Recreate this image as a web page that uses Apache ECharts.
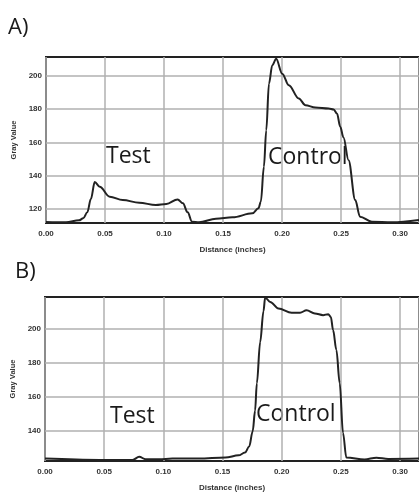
<!DOCTYPE html>
<html>
<head>
<meta charset="utf-8">
<script src="https://cdn.jsdelivr.net/npm/echarts@6/dist/echarts.min.js"></script>
<style>
html,body{margin:0;padding:0;background:#fff;}
#chart{width:419px;height:493px;}
</style>
</head>
<body>
<div id="chart"></div>
<script>
// Panel A profile
const distA = [0, 0.017, 0.028, 0.0315, 0.035, 0.038, 0.0413, 0.0455, 0.054, 0.065, 0.079, 0.093, 0.102, 0.1115, 0.116, 0.120, 0.1237, 0.1296, 0.144, 0.158, 0.1748, 0.18, 0.182, 0.1846, 0.1866, 0.1889, 0.1917, 0.195, 0.2001, 0.2057, 0.2142, 0.2198, 0.2282, 0.2395, 0.2437, 0.2465, 0.2493, 0.252, 0.2563, 0.262, 0.266, 0.276, 0.293, 0.316];
const grayA = [112.2, 112, 113.2, 114.4, 118, 126, 136.2, 133.4, 127.4, 125.4, 123.8, 122.4, 123, 125.8, 123.4, 118, 112.4, 112, 114.2, 115, 117.4, 120.5, 124.4, 145.4, 167.4, 195.4, 206.4, 210.4, 201.4, 194.4, 186.4, 182.4, 181, 180.4, 179.8, 177.4, 169.4, 163, 149.4, 125.4, 115.4, 112.4, 112, 113.4];
// Panel B profile
const distB = [0, 0.046, 0.074, 0.0796, 0.085, 0.0964, 0.1076, 0.13, 0.1524, 0.1636, 0.169, 0.1725, 0.1755, 0.1775, 0.179, 0.1818, 0.1846, 0.186, 0.1903, 0.1972, 0.2084, 0.2155, 0.221, 0.228, 0.235, 0.2393, 0.2415, 0.2434, 0.2462, 0.249, 0.2518, 0.2546, 0.27, 0.28, 0.29, 0.316];
const grayB = [124, 123.2, 123.2, 125.1, 123.6, 123.6, 124, 124, 124.6, 125.9, 127.5, 131, 140, 152, 168, 192, 210, 218, 215.4, 211.6, 209.1, 209.1, 210.6, 208.7, 207.7, 208.3, 206.7, 199, 187.4, 168, 139, 124.6, 123.5, 124.5, 123.8, 124];
// Axis ticks
const xTicks = [0, 0.05, 0.10, 0.15, 0.20, 0.25, 0.30];
const yTicksA = [120, 140, 160, 180, 200];
const yTicksB = [140, 160, 180, 200];

const pair = (xs, ys) => xs.map((x, i) => [x, ys[i]]);
const lblStyle = {fontFamily: 'Liberation Sans', fontSize: 8, fontWeight: 'bold', color: '#333'};
const gridLine = {show: true, lineStyle: {color: '#b0b0b0', width: 1.5}};

function xAxis(gi) {
  return {
    type: 'value', gridIndex: gi, min: 0, max: 0.316, interval: 0.05,
    name: 'Distance (inches)', nameLocation: 'middle', nameGap: 23,
    nameTextStyle: {fontFamily: 'Liberation Sans', fontSize: 8, fontWeight: 'bold', color: '#333'},
    axisLine: {show: false}, axisTick: {show: false},
    axisLabel: Object.assign({margin: 7, showMaxLabel: false, formatter: v => v.toFixed(2)}, lblStyle),
    splitLine: gridLine
  };
}
function yAxis(gi, mn, mx, ticks) {
  return {
    type: 'value', gridIndex: gi, min: mn, max: mx,
    name: 'Gray Value', nameLocation: 'middle', nameGap: 26,
    nameTextStyle: {fontFamily: 'Liberation Sans', fontSize: 7.5, fontWeight: 'bold', color: '#333'},
    axisLine: {show: false},
    axisTick: {show: false, customValues: ticks},
    axisLabel: Object.assign({margin: 4, customValues: ticks}, lblStyle),
    splitLine: gridLine
  };
}

const chart = echarts.init(document.getElementById('chart'), null, {renderer: 'canvas'});
const textFont = '23px "Open Sans"';
chart.setOption({
  animation: false,
  backgroundColor: '#fff',
  grid: [
    {left: 46, top: 57, width: 375, height: 166, show: true, borderColor: '#222', borderWidth: 2, backgroundColor: 'transparent'},
    {left: 45, top: 297, width: 376, height: 165, show: true, borderColor: '#222', borderWidth: 2, backgroundColor: 'transparent'}
  ],
  xAxis: [xAxis(0), xAxis(1)],
  yAxis: [yAxis(0, 111.6, 211.4, yTicksA), yAxis(1, 122.6, 218.3, yTicksB)],
  series: [
    {type: 'line', xAxisIndex: 0, yAxisIndex: 0, data: pair(distA, grayA), showSymbol: false, smooth: 0.35, smoothMonotone: 'x', lineStyle: {color: '#222', width: 2}, clip: true},
    {type: 'line', xAxisIndex: 1, yAxisIndex: 1, data: pair(distB, grayB), showSymbol: false, smooth: 0.35, smoothMonotone: 'x', lineStyle: {color: '#222', width: 2}, clip: true}
  ],
  graphic: [
    {type: 'text', left: 8, top: 17, style: {text: 'A)', font: '22px "Open Sans"', fill: '#1a1a1a'}},
    {type: 'text', left: 15, top: 261, style: {text: 'B)', font: '22px "Open Sans"', fill: '#1a1a1a'}},
    {type: 'text', left: 106, top: 145, style: {text: 'Test', font: textFont, fill: '#1a1a1a'}},
    {type: 'text', left: 268, top: 146, style: {text: 'Control', font: textFont, fill: '#1a1a1a'}},
    {type: 'text', left: 110, top: 405, style: {text: 'Test', font: textFont, fill: '#1a1a1a'}},
    {type: 'text', left: 256, top: 403, style: {text: 'Control', font: textFont, fill: '#1a1a1a'}}
  ]
});
</script>
</body>
</html>
